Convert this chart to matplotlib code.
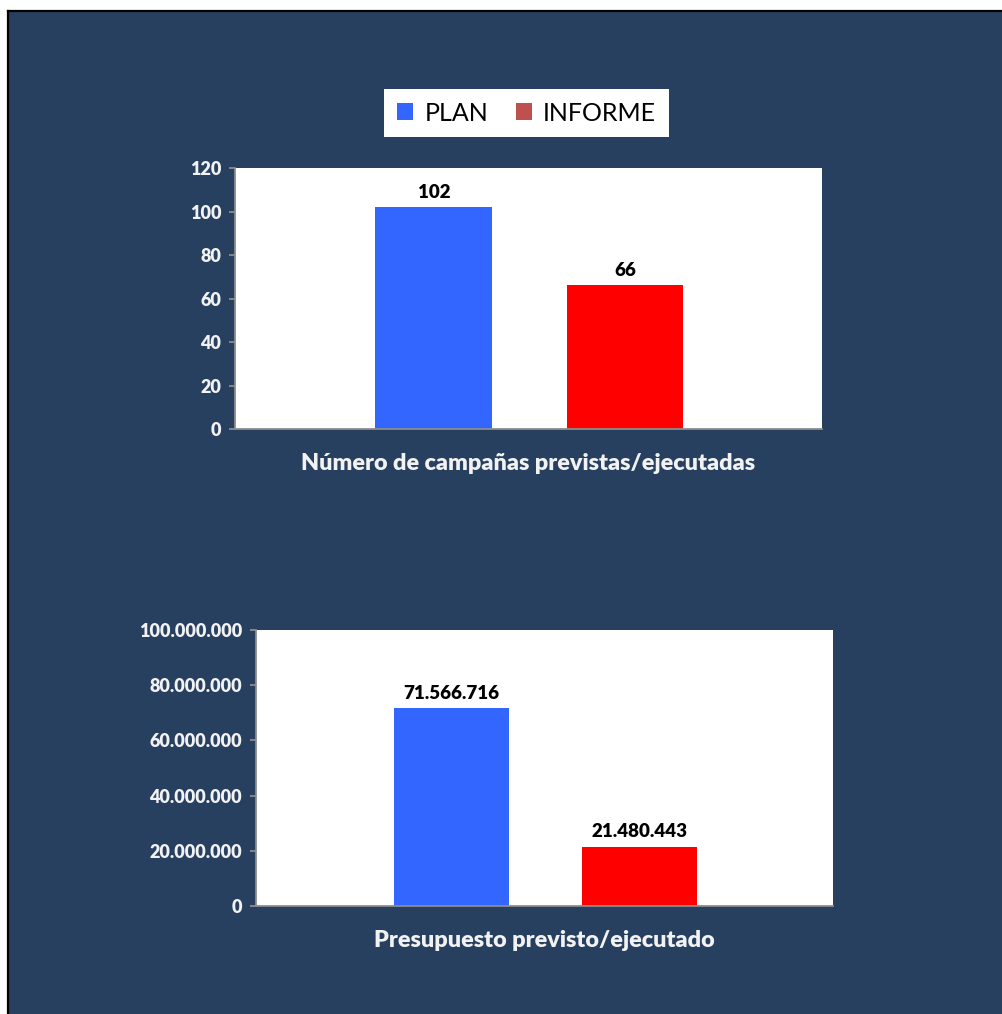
import matplotlib.pyplot as plt
from matplotlib.patches import Rectangle, Patch
from matplotlib.ticker import FuncFormatter

plt.rcParams['font.family'] = ['Lato', 'DejaVu Sans']

series = ['PLAN', 'INFORME']
campanas = [102, 66]
presupuesto = [71566716, 21480443]
bar_colors = ['#3366FF', '#FF0000']
legend_colors = ['#3366FF', '#C0504D']

BG = '#274060'
TXT = '#F2F2F2'
GREY = '#8C8C8C'


def miles(v, pos=None):
    return f'{int(round(v)):,}'.replace(',', '.')


fig = plt.figure(figsize=(10.02, 10.14), dpi=100, facecolor='white')
# dark panel with a black edge along top and left
fig.patches.append(Rectangle((7 / 1002, 0), 1, 1004 / 1014, transform=fig.transFigure,
                             facecolor=BG, edgecolor='none', zorder=-2))
fig.add_artist(plt.Line2D([7.5 / 1002, 1], [1003.5 / 1014, 1003.5 / 1014],
                          transform=fig.transFigure, color='black', lw=1.6, zorder=-1))
fig.add_artist(plt.Line2D([7.5 / 1002, 7.5 / 1002], [0, 1003.5 / 1014],
                          transform=fig.transFigure, color='black', lw=1.6, zorder=-1))


def panel(rect, values, ymax, ystep, xlabel, fmt):
    ax = fig.add_axes(rect)
    ax.set_facecolor('white')
    x = range(len(values))
    bars = ax.bar(x, values, width=0.61, color=bar_colors, zorder=2)
    ax.bar_label(bars, labels=[fmt(v) for v in values], padding=4.5,
                 fontsize=13.5, fontweight='heavy', color='black')
    ax.set_xlim(-1.04, 2.03)
    ax.set_ylim(0, ymax)
    ax.set_yticks(range(0, int(ymax) + 1, int(ystep)))
    ax.yaxis.set_major_formatter(FuncFormatter(lambda v, p: fmt(v)))
    ax.set_xticks([])
    for s in ['top', 'right']:
        ax.spines[s].set_visible(False)
    for s in ['left', 'bottom']:
        ax.spines[s].set_color(GREY)
        ax.spines[s].set_linewidth(1.3)
    ax.tick_params(axis='y', colors=GREY, length=4, width=1.3, pad=6,
                   labelcolor=TXT, labelsize=13)
    for t in ax.get_yticklabels():
        t.set_fontweight('heavy')
    ax.set_xlabel(xlabel, fontsize=16.8, fontweight='heavy', color=TXT, labelpad=17)
    return ax


panel([0.2345, 0.5769, 0.5858, 0.2574], campanas, 120, 20,
      'Número de campañas previstas/ejecutadas', lambda v: f'{int(v)}')
panel([0.2555, 0.1065, 0.5758, 0.2722], presupuesto, 1e8, 2e7,
      'Presupuesto previsto/ejecutado', miles)

handles = [Patch(facecolor=c, edgecolor='none') for c in legend_colors]
leg = fig.legend(handles, series, loc='center', bbox_to_anchor=(0.5254, 0.8885),
                 ncol=2, frameon=True, fancybox=False, fontsize=18, framealpha=1,
                 handlelength=0.65, handleheight=0.65, handletextpad=0.45,
                 columnspacing=1.1, borderpad=0.5, borderaxespad=0)
leg.get_frame().set_facecolor('white')
leg.get_frame().set_edgecolor('none')
for t in leg.get_texts():
    t.set_color('black')

fig.savefig('out.png', dpi=100, facecolor=fig.get_facecolor())
